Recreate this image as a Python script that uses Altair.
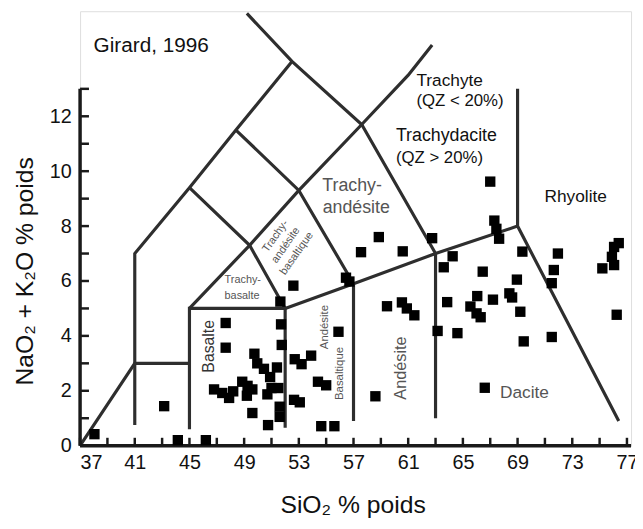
import altair as alt
import pandas as pd

# ---- data ----
sio2 = [38.05, 43.15, 44.15, 46.2,
        47.65, 47.65, 46.8, 47.4, 47.9, 48.2, 48.86, 49.25, 49.2, 49.6, 49.6,
        49.75, 49.96, 50.45, 50.9, 50.7, 51.0, 50.75, 51.4, 51.5, 51.6, 51.6,
        51.65, 51.7, 51.75,
        52.6, 52.7, 53.2, 53.9, 52.65, 53.07, 54.4, 55.0, 54.64, 55.6, 55.9,
        56.45, 56.7,
        57.55, 58.85, 60.6,
        58.6, 59.45, 60.54, 60.9, 61.45,
        62.75, 63.6, 64.25, 63.85, 63.15, 64.6,
        65.55, 66.05, 66.0, 66.3, 66.45, 67.2, 66.6,
        67.0, 67.3, 67.45, 67.65, 68.4, 68.6, 68.95, 69.35, 69.2, 69.45,
        71.5, 71.5, 71.65, 71.95,
        75.2, 76.06, 75.9, 76.06, 76.4, 76.25]
alkalis = [0.42, 1.44, 0.2, 0.2,
           4.47, 3.57, 2.05, 1.92, 1.74, 1.98, 2.33, 2.18, 1.82, 2.05, 1.19,
           3.35, 3.0, 2.8, 2.5, 1.87, 2.1, 0.75, 2.85, 2.1, 1.42, 1.05,
           5.25, 4.42, 3.67,
           5.83, 3.15, 2.97, 3.28, 1.67, 1.58, 2.33, 2.2, 0.71, 0.71, 4.15,
           6.12, 5.98,
           7.05, 7.6, 7.08,
           1.8, 5.08, 5.22, 5.0, 4.75,
           7.56, 6.5, 6.9, 5.23, 4.18, 4.1,
           5.07, 5.45, 4.82, 4.68, 6.34, 5.32, 2.11,
           9.62, 8.2, 7.9, 7.54, 5.55, 5.4, 6.05, 7.07, 4.88, 3.8,
           3.96, 5.92, 6.4, 7.0,
           6.46, 6.58, 6.88, 7.24, 7.38, 4.77]

# field boundaries (polylines, SiO2 / Na2O+K2O)
boundaries = [
    [(37, 0), (41, 3), (45, 3)],
    [(41, 0.75), (41, 7), (45, 9.4), (48.4, 11.5), (52.5, 14)],
    [(49.2, 15.75), (52.5, 14), (57.6, 11.7), (63, 7)],
    [(45, 0.6), (45, 5), (52, 5), (52, 0.65)],
    [(45, 5), (49.4, 7.3), (53, 9.3), (57.6, 11.7), (61, 13.5), (62.75, 14.6)],
    [(52, 5), (57, 5.9), (63, 7), (69, 8)],
    [(45, 9.4), (49.4, 7.3), (52, 5)],
    [(48.4, 11.5), (53, 9.3), (57, 5.9)],
    [(57, 5.9), (57, 0.9)],
    [(63, 7), (63, 1.0)],
    [(69, 13), (69, 8), (76.4, 0.9)],
]

x_labels = [37, 41, 45, 49, 53, 57, 61, 65, 69, 73, 77]
x_ticks = list(range(37, 78, 2))
y_labels = [0, 2, 4, 6, 8, 10, 12]
y_ticks = list(range(0, 14))
x_axis_end = 77.3
y_axis_end = 13

# annotations: text, x, y
labels = [
    ("Girard, 1996", 42.2, 14.54, 21, "#111", 0, "center"),
    ("Trachyte", 61.6, 13.29, 17.5, "#111", 0, "left"),
    ("(QZ < 20%)", 61.6, 12.55, 17, "#111", 0, "left"),
    ("Trachydacite", 60.1, 11.28, 18, "#111", 0, "left"),
    ("(QZ > 20%)", 60.1, 10.47, 17, "#111", 0, "left"),
    ("Trachy-", 56.9, 9.47, 18, "#555", 0, "center"),
    ("andésite", 57.2, 8.66, 18, "#555", 0, "center"),
    ("Rhyolite", 73.25, 9.07, 17.5, "#111", 0, "center"),
    ("Dacite", 69.5, 1.9, 17.5, "#555", 0, "center"),
    ("Andésite", 60.5, 2.83, 16.5, "#555", 270, "center"),
    ("Basalte", 46.4, 3.62, 16, "#333", 270, "center"),
    ("Andésite", 54.95, 4.32, 11.5, "#555", 270, "center"),
    ("Basaltique", 56.05, 2.63, 11.5, "#555", 270, "center"),
    ("Trachy-", 48.9, 6.03, 11, "#555", 0, "center"),
    ("basalte", 48.85, 5.45, 11, "#555", 0, "center"),
    ("Trachy-", 51.3, 7.63, 11, "#555", 305, "center"),
    ("andésite", 52.05, 7.3, 11, "#555", 305, "center"),
    ("basaltique", 52.85, 7.0, 11, "#555", 305, "center"),
]

# ---- chart ----
FONT = "Liberation Sans, Arial, DejaVu Sans"
W, H = 558, 440
xs = alt.Scale(domain=[37, x_axis_end], nice=False, zero=False)
ys = alt.Scale(domain=[0, H / 27.8], nice=False, zero=False)

XAX = alt.Axis(values=x_labels, ticks=False, domain=False, grid=False,
               labelFontSize=20, labelFont=FONT, labelColor="#111",
               labelPadding=7, title="SiO₂ % poids", titleFont=FONT,
               titleFontSize=25, titleFontWeight="normal", titleColor="#111",
               titleX=276, titleY=60, titleBaseline="middle", titleAlign="center")
YAX = alt.Axis(values=y_labels, ticks=False, domain=False, grid=False,
               labelFontSize=20, labelFont=FONT, labelColor="#111",
               labelPadding=9, title="NaO₂ + K₂O % poids", titleFont=FONT,
               titleFontSize=25, titleFontWeight="normal", titleColor="#111",
               titleX=-56, titleY=263, titleAngle=270, titleBaseline="middle",
               titleAlign="center")


def X(f):
    return alt.X(f, type="quantitative", scale=xs, axis=XAX)


def Y(f):
    return alt.Y(f, type="quantitative", scale=ys, axis=YAX)


rows = []
for i, seg in enumerate(boundaries):
    for j, (a, b) in enumerate(seg):
        rows.append({"seg": i, "o": j, "x": a, "y": b})
bdf = pd.DataFrame(rows)

lines = alt.Chart(bdf).mark_line(color="#2e2e2e", strokeWidth=3.2,
                                 strokeJoin="miter", strokeCap="butt").encode(
    x=X("x"), y=Y("y"), detail="seg:N", order="o:Q")

pts = alt.Chart(pd.DataFrame({"x": sio2, "y": alkalis})).mark_square(
    size=110, color="black", opacity=1).encode(x=X("x"), y=Y("y"))

xline = alt.Chart(pd.DataFrame({"x": [37], "x2": [x_axis_end], "y": [0]})).mark_rule(
    color="#1a1a1a", strokeWidth=3.5).encode(x=X("x"), x2="x2", y=Y("y"))
yline = alt.Chart(pd.DataFrame({"x": [37], "y": [0], "y2": [y_axis_end]})).mark_rule(
    color="#1a1a1a", strokeWidth=3.5).encode(x=X("x"), y=Y("y"), y2="y2")

xt = alt.Chart(pd.DataFrame({"x": x_ticks, "y": [0] * len(x_ticks)})).mark_rule(
    color="#1a1a1a", strokeWidth=2.5, y2Offset=-8).encode(x=X("x"), y=Y("y"), y2="y")
yt = alt.Chart(pd.DataFrame({"y": y_ticks, "x": [37] * len(y_ticks)})).mark_rule(
    color="#1a1a1a", strokeWidth=2.5, x2Offset=9).encode(y=Y("y"), x=X("x"), x2="x")

layers = [lines, xline, yline, xt, yt, pts]
for (t, lx, ly, sz, col, ang, al) in labels:
    layers.append(
        alt.Chart(pd.DataFrame({"x": [lx], "y": [ly], "t": [t]})).mark_text(
            font=FONT, fontSize=sz, color=col, angle=ang, align=al,
            baseline="middle").encode(x=X("x"), y=Y("y"), text="t:N"))

chart = alt.layer(*layers).properties(
    width=W, height=H,
    autosize=alt.AutoSizeParams(type="none"),
    padding={"left": 73, "top": 0, "right": 4, "bottom": 73},
).configure_view(stroke=None).configure(background="white")

chart.save("out.html", embed_options={"renderer": "svg", "actions": False})
